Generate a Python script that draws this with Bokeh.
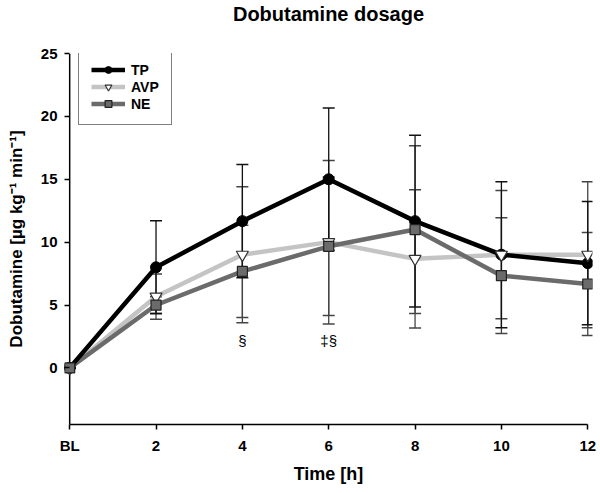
from bokeh.plotting import figure
from bokeh.models import (ColumnDataSource, Whisker, TeeHead, FixedTicker, Range1d,
                          Legend, LegendItem, LinearAxis, Span, Title)
from bokeh.core.properties import value
from bokeh.embed import file_html
from bokeh.resources import INLINE

# ---- data ----
time = [0, 2, 4, 6, 8, 10, 12]
tick_labels = ["BL", "2", "4", "6", "8", "10", "12"]
y_ticks = [0, 5, 10, 15, 20, 25]

tp = [0, 8.0, 11.67, 15.0, 11.67, 9.0, 8.33]
tp_sd = [0, 3.7, 4.5, 5.67, 6.83, 5.8, 4.9]
avp = [0, 5.67, 9.0, 10.0, 8.67, 9.0, 9.0]
avp_sd = [0, 1.8, 5.4, 6.5, 5.5, 5.1, 5.8]
ne = [0, 5.0, 7.67, 9.67, 11.0, 7.33, 6.67]
ne_sd = [0, 0.65, 3.67, 5.5, 6.67, 4.6, 4.1]

sig_x = [4, 6]
sig_y = [2.15, 2.15]
sig_text = ["§", "‡§"]

TITLE = "Dobutamine dosage"
FONT = "Liberation Sans"

p = figure(width=600, height=493, output_backend="svg", toolbar_location=None,
           x_range=Range1d(-0.12, 12.11), y_range=Range1d(-4.5, 25),
           min_border_left=64, min_border_right=8, min_border_top=53, min_border_bottom=69,
           x_axis_location=None, y_axis_location=None)
p.grid.grid_line_color = None
p.outline_line_color = None
p.background_fill_color = "white"

# empty spacer title next to the frame, then the real title above it
p.add_layout(Title(text=" ", text_font=FONT, text_font_size="15px", standoff=10), "above")
p.add_layout(Title(text=TITLE, align="center", standoff=0, text_font=FONT,
                   text_font_size="20px", text_font_style="bold", text_color="black"), "above")

def style_axis(ax):
    ax.axis_line_width = 1.5
    ax.axis_line_color = "black"
    ax.major_tick_line_width = 1.5
    ax.major_tick_line_color = "black"
    ax.minor_tick_line_color = None
    ax.major_label_text_font = FONT
    ax.major_label_text_font_size = "15px"
    ax.major_label_text_font_style = "bold"
    ax.major_label_text_color = "black"
    ax.axis_label_text_font = FONT
    ax.axis_label_text_font_style = "bold"
    ax.axis_label_text_color = "black"

yax = LinearAxis(ticker=FixedTicker(ticks=y_ticks),
                 axis_label="Dobutamine [µg kg⁻¹ min⁻¹]")
style_axis(yax)
yax.axis_line_color = None
yax.major_tick_in = 5
yax.major_tick_out = 0
yax.axis_label_text_font_size = "17px"
yax.major_label_standoff = 7
yax.axis_label_standoff = 12
p.add_layout(yax, "left")

# y axis line drawn at x = 0 (BL)
p.add_layout(Span(location=0, dimension="height", line_color="black", line_width=1.5,
                  level="underlay"))

xax = LinearAxis(ticker=FixedTicker(ticks=time), bounds=(0, 12),
                 major_label_overrides=dict(zip(time, tick_labels)),
                 axis_label="Time [h]")
style_axis(xax)
xax.major_tick_in = 0
xax.major_tick_out = 5
xax.axis_label_text_font_size = "18px"
xax.major_label_standoff = 7
xax.axis_label_standoff = 7
p.add_layout(xax, "below")

# error bars
for vals, sds, col in [(avp, avp_sd, "#444444"), (ne, ne_sd, "#444444"), (tp, tp_sd, "#111111")]:
    src = ColumnDataSource(dict(x=time,
                                lo=[v - s for v, s in zip(vals, sds)],
                                hi=[v + s for v, s in zip(vals, sds)]))
    w = Whisker(base="x", lower="lo", upper="hi", source=src, line_color=col, line_width=1.3,
                upper_head=TeeHead(size=12, line_color=col, line_width=1.5),
                lower_head=TeeHead(size=12, line_color=col, line_width=1.5))
    p.add_layout(w)

# lines
l_avp = p.line(time, avp, line_color="#c4c4c4", line_width=4.5)
l_ne = p.line(time, ne, line_color="#6b6b6b", line_width=4.5)
l_tp = p.line(time, tp, line_color="black", line_width=4.5)

# markers
s_tp = p.scatter(time, tp, marker="circle", size=11, fill_color="black", line_color="black")
s_avp = p.scatter(time, avp, marker="inverted_triangle", size=12, fill_color="white",
                  line_color="#333333", line_width=1.2)
s_ne = p.scatter(time, ne, marker="square", size=10, fill_color="#6b6b6b",
                 line_color="#222222", line_width=1.2)

p.text(x=sig_x, y=sig_y, text=sig_text, text_font=value(FONT), text_font_size="15px",
       text_align="center", text_baseline="middle", text_color="black")

legend = Legend(items=[LegendItem(label="TP", renderers=[l_tp, s_tp]),
                       LegendItem(label="AVP", renderers=[l_avp, s_avp]),
                       LegendItem(label="NE", renderers=[l_ne, s_ne])],
                location=(14, 299))
legend.label_text_font = FONT
legend.label_text_font_style = "bold"
legend.label_text_font_size = "14px"
legend.label_text_color = "black"
legend.glyph_width = 34
legend.glyph_height = 17
legend.label_height = 17
legend.label_standoff = 6
legend.padding = 12
legend.spacing = 0
legend.margin = 0
legend.border_line_color = "black"
legend.border_line_width = 1
legend.background_fill_color = "white"
legend.background_fill_alpha = 1
p.add_layout(legend)

open("out.html", "w").write(file_html(p, INLINE))
